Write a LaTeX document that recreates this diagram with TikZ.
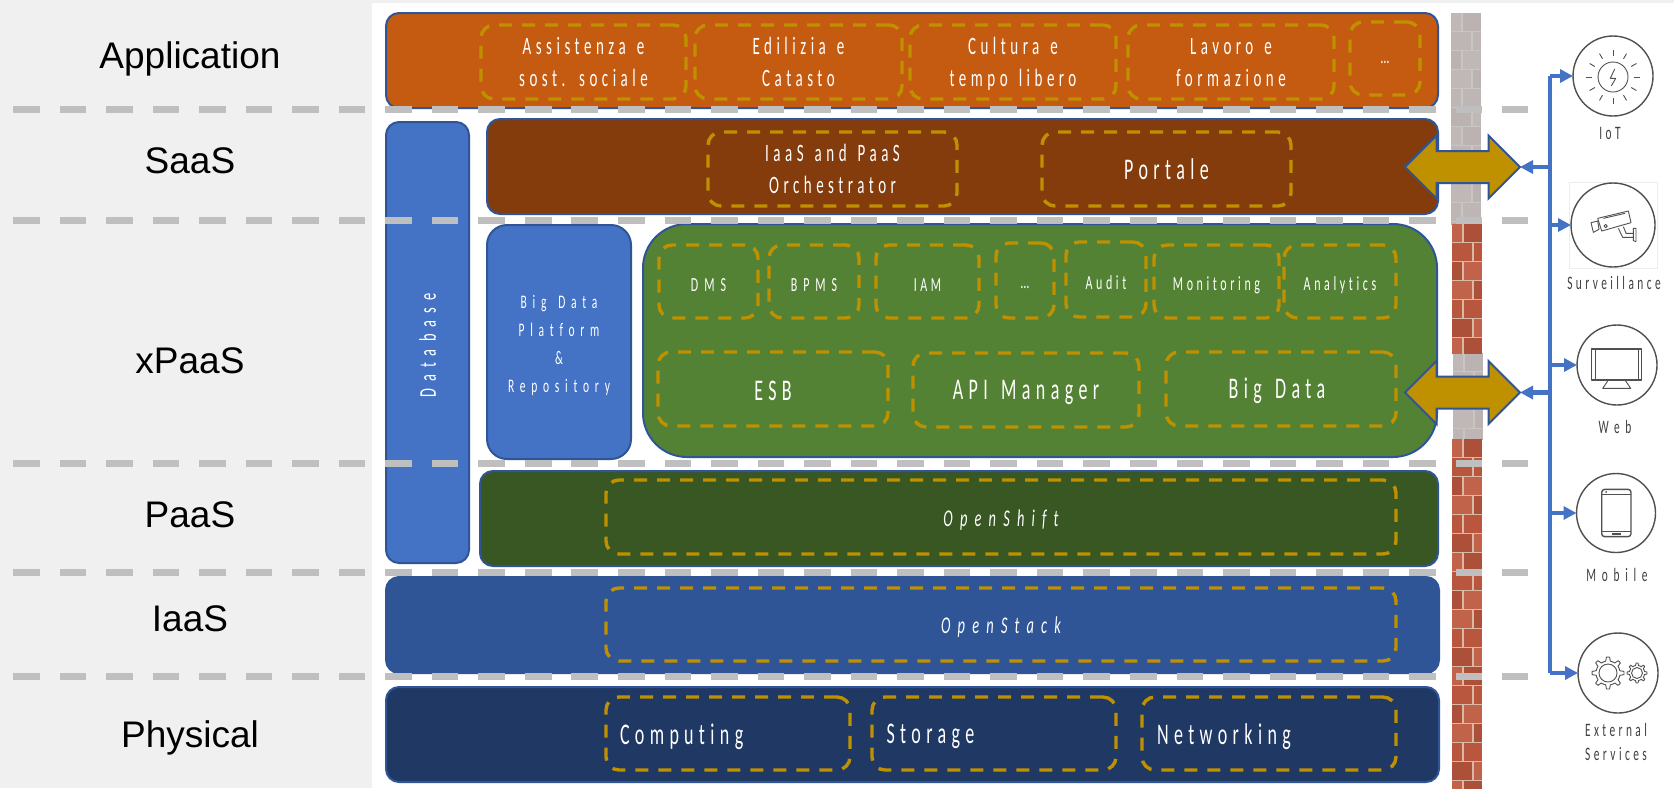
\documentclass[tikz,border=0pt]{standalone}
\usepackage{graphicx}
\usepackage{fontspec}
\setmainfont{Liberation Sans}
\newfontfamily\lblfont[FakeStretch=0.6,LetterSpace=18,WordSpace=1.4,Ligatures=NoCommon]{Carlito}
\newfontfamily\lblwide[FakeStretch=0.6,LetterSpace=30,WordSpace=1.4,Ligatures=NoCommon]{Carlito}
\usetikzlibrary{arrows.meta,shapes.arrows}
\definecolor{cApp}{HTML}{C55A11}
\definecolor{cSaas}{HTML}{843C0C}
\definecolor{cGreen}{HTML}{548235}
\definecolor{cDark}{HTML}{385723}
\definecolor{cIaas}{HTML}{2F5597}
\definecolor{cPhys}{HTML}{203864}
\definecolor{cDb}{HTML}{4472C4}
\definecolor{cGold}{HTML}{BF9000}
\definecolor{cIcon}{HTML}{505050}
\definecolor{cLab}{HTML}{404040}
\definecolor{cSep}{HTML}{BFBFBF}
\definecolor{cPanel}{HTML}{F0F0F0}
\definecolor{rA}{HTML}{B9563E}
\definecolor{rB}{HTML}{AD5039}
\definecolor{rC}{HTML}{C0634A}
\definecolor{rM}{HTML}{D9B9A3}
\definecolor{gA}{HTML}{BEB5B5}
\definecolor{gB}{HTML}{BBB2B2}
\definecolor{gC}{HTML}{C0B7B7}
\definecolor{gM}{HTML}{CAC4C3}
\tikzset{
  mainbox/.style={draw=cIaas,line width=1pt,rounded corners=6.5pt,outer sep=0pt,inner sep=0pt,text=white},
  dashbox/.style={draw=cGold,line width=1.7pt,rounded corners=6.5pt,outer sep=0pt,inner sep=0pt,text=white,
     dash pattern=on 6.5pt off 5pt,align=center},
  txS/.style={font=\lblfont\fontsize{10}{14}\selectfont},
  txW/.style={font=\lblwide\fontsize{10}{14}\selectfont},
  txD/.style={font=\lblwide\fontsize{12}{14}\selectfont},
  txB/.style={font=\lblwide\fontsize{9.6}{14}\selectfont},
  txM/.style={font=\lblfont\fontsize{12.5}{16}\selectfont},
  txI/.style={font=\lblwide\itshape\fontsize{12}{16}\selectfont},
  txL/.style={font=\lblfont\fontsize{15}{18}\selectfont},
  sep/.style={draw=cSep,line width=3.5pt,dash pattern=on 13.3pt off 9.97pt},
  layer/.style={font=\fontsize{18.5}{22}\selectfont,text=black},
  bigarrow/.style={double arrow,draw=cIaas,fill=cGold,line width=1pt,inner sep=0pt,outer sep=0pt,
     minimum height=57.5pt,minimum width=30.5pt,double arrow head extend=7.75pt,text height=7.5pt,text depth=7.5pt},
  bus/.style={draw=cDb,line width=2.25pt},
  tip/.style={bus,-{Triangle[length=6.5pt,width=6.5pt]}},
  devcircle/.style={circle,draw=cIcon,line width=.7pt,inner sep=0pt,outer sep=0pt,fill=white},
  devlabel/.style={font=\lblfont\fontsize{9.5}{12}\selectfont,text=cLab,align=center},
  devwide/.style={font=\lblwide\fontsize{9.5}{12}\selectfont,text=cLab,align=center},
  ico/.style={draw=cIcon,line width=.45pt,line join=round}
}
% lowers a text without moving the box it sits in
\newcommand{\dn}[2]{\raisebox{-#1}[\height][\depth]{#2}}
\newcommand{\lines}[2]{\dn{#1}{\begin{tabular}{@{}c@{}}#2\end{tabular}}}
% box given by its corners in pixels
\newcommand{\bx}[6][]{%
  \pgfmathsetmacro\bxcx{(#3+#5)/2}\pgfmathsetmacro\bxcy{(#4+#6)/2}%
  \pgfmathsetmacro\bxw{(#5-#3)*0.5}\pgfmathsetmacro\bxh{(#6-#4)*0.5}%
  \node[#1,minimum width=\bxw pt,minimum height=\bxh pt] (#2) at (\bxcx,\bxcy)}
% brick strip
\newcommand{\brickstrip}[7]{%
  \begin{scope}
  \clip (#1,#3) rectangle (#2,#4);
  \fill[#5] (#1,#3) rectangle (#2,#4);
  \pgfmathtruncatemacro\nrows{(#4-#3)/19}
  \foreach \r in {0,...,\nrows}{
    \pgfmathsetmacro\ya{#3+\r*19}\pgfmathsetmacro\yb{\ya+19}
    \pgfmathsetmacro\jx{#1+(mod(\r,2)==0 ? 11 : 21)}
    \pgfmathtruncatemacro\ca{mod(\r*7+2,3)}\pgfmathtruncatemacro\cb{mod(\r*5+1,3)}
    \fill[\ifcase\ca #5\or #6\or #7\fi] (#1,\ya) rectangle (\jx,\yb);
    \fill[\ifcase\cb #5\or #6\or #7\fi] (\jx,\ya) rectangle (#2,\yb);
    \draw[\mort,line width=.6pt] (\jx,\ya) -- (\jx,\yb);
    \draw[\mort,line width=.8pt] (#1,\yb) -- (#2,\yb);
  }
  \end{scope}}
\begin{document}
\begin{tikzpicture}[x=0.5pt,y=-0.5pt]
\useasboundingbox (0,0) rectangle (1674,788);
% backgrounds
\fill[white] (0,0) rectangle (1674,788);
\fill[cPanel] (0,0) rectangle (372,788);
\fill[cPanel] (0,0) rectangle (1674,3);
% wall
\def\mort{gM}
\brickstrip{1451}{1481}{13}{224}{gA}{gB}{gC}
\brickstrip{1453}{1483}{353}{439}{gA}{gB}{gC}
\def\mort{rM}
\brickstrip{1452}{1482}{224}{353}{rA}{rB}{rC}
\brickstrip{1452}{1482}{439}{788}{rA}{rB}{rC}
% layer names
\node[layer] (lApp) at (190,59) {Application};
\node[layer] (lSaas) at (190,161) {SaaS};
\node[layer] (lX) at (190,361) {xPaaS};
\node[layer] (lPaas) at (190,515) {PaaS};
\node[layer] (lIaas) at (190,619) {IaaS};
\node[layer] (lPhys) at (190,738) {Physical};
% main boxes
\bx[mainbox,fill=cApp]{app}{386}{13}{1438}{108} {};
\bx[mainbox,fill=cSaas]{saas}{487}{119}{1438}{214} {};
\bx[mainbox,fill=cDb,txD]{db}{386}{122}{469}{563} {\dn{1.5pt}{\rotatebox{90}{Database}}};
\bx[mainbox,fill=cDb,txB,align=center,rounded corners=10pt]{bdp}{487}{225}{631}{459} {\lines{1.5pt}{Big Data\\Platform\\\&\\Repository}};
\bx[mainbox,fill=cGreen,rounded corners=22pt]{xpaas}{643}{224}{1437}{457} {};
\bx[mainbox,fill=cDark]{paas}{480}{471}{1438}{566} {};
\bx[mainbox,fill=cIaas]{iaas}{386}{577}{1439}{673} {};
\bx[mainbox,fill=cPhys]{phys}{386}{687}{1439}{782} {};
% application
\bx[dashbox,txM]{d1}{481}{25}{686}{99} {\lines{1pt}{Assistenza e\\sost. sociale}};
\bx[dashbox,txM]{d2}{695}{25}{902}{99} {\lines{1pt}{Edilizia e\\Catasto}};
\bx[dashbox,txM]{d3}{910}{25}{1116}{99} {\lines{1pt}{Cultura e\\tempo libero}};
\bx[dashbox,txM]{d4}{1128}{25}{1334}{99} {\lines{1pt}{Lavoro e\\formazione}};
\bx[dashbox,txS]{d5}{1350}{22}{1420}{95} {\vphantom{Ag}…};
% saas
\bx[dashbox,txM]{orch}{708}{132}{957}{206} {\lines{1pt}{IaaS and PaaS\\Orchestrator}};
\bx[dashbox,txL]{port}{1042}{132}{1291}{206} {Portale};
% xpaas row 1
\bx[dashbox,txW]{dms}{659}{245}{758}{318} {\dn{2pt}{DMS}};
\bx[dashbox,txW]{bpms}{769}{245}{859}{318} {\dn{2pt}{BPMS}};
\bx[dashbox,txS]{iam}{876}{245}{979}{318} {\dn{2pt}{IAM}};
\bx[dashbox,txS]{more}{996}{243}{1054}{318} {\dn{1.5pt}{\vphantom{Ag}…}};
\bx[dashbox,txS]{audit}{1066}{242}{1146}{317} {\dn{1.5pt}{Audit}};
\bx[dashbox,txS]{mon}{1154}{245}{1279}{318} {\dn{2pt}{Monitoring}};
\bx[dashbox,txS]{ana}{1284}{245}{1396}{318} {\dn{2pt}{Analytics}};
% xpaas row 2
\bx[dashbox,txL]{esb}{658}{352}{888}{426} {\dn{1pt}{ESB}};
\bx[dashbox,txL]{api}{913}{353}{1139}{427} {\dn{1pt}{API Manager}};
\bx[dashbox,txL]{bigd}{1166}{352}{1396}{426} {\dn{1pt}{Big Data\hspace*{4pt}}};
% paas, iaas
\bx[dashbox,txI]{oshift}{606}{480}{1396}{554} {\dn{1.5pt}{OpenShift}};
\bx[dashbox,txI]{ostack}{606}{588}{1396}{661} {\dn{1.5pt}{OpenStack}};
% physical
\bx[dashbox,txL,align=left,text width=108pt]{comp}{606}{697}{850}{770} {\dn{1.5pt}{Comp\kern2.5pt uting}};
\bx[dashbox,txL,align=left,text width=107.5pt]{stor}{872}{697}{1116}{770} {\dn{1.5pt}{Storage}};
\bx[dashbox,txL,align=left,text width=112pt]{netw}{1142}{697}{1396}{770} {\dn{1.5pt}{Networking}};
% separators
\foreach \yy in {109,220,463,572,676}{
  \draw[sep] (13,\yy) -- (1528,\yy);
}
% devices
\node[devcircle,minimum size=40pt] (iot) at (1613,76) {};
\draw[draw=black!7,line width=.5pt] (1569,182) rectangle (1657,268);
\node[devcircle,minimum size=42pt] (surv) at (1613,225) {};
\node[devcircle,minimum size=40pt] (web) at (1617,365) {};
\node[devcircle,minimum size=39.5pt] (mob) at (1616,513) {};
\node[devcircle,minimum size=40pt] (ext) at (1618,673) {};
\node[devlabel] (tIot) at (1610,133) {IoT};
\node[devlabel] (tSurv) at (1614,283) {Surveillance};
\node[devwide] (tWeb) at (1615,427) {Web};
\node[devwide] (tMob) at (1617,575) {Mobile};
\node[devlabel] (tExt) at (1616,742) {External\\Services};
% icons: sun
\begin{scope}[shift={(1613,77)}]
  \draw[ico] (0,0) circle (15);
  \foreach \a in {0,30,...,330}{\draw[ico] (\a:21) -- (\a:27);}
  \draw[ico] (1.7,-8) -- (-2.7,1.3) -- (2.7,1.3) -- (-1.7,9);
\end{scope}
% icons: camera, monitor
\begin{scope}[shift={(1300,0)},x=0.16667pt,y=-0.16667pt]
  \draw[ico] (893,655) -- (985,633) -- (993,668) -- (905,693) -- cycle;
  \draw[ico] (873,668) -- (893,663) -- (897,688) -- (880,697) -- cycle;
  \draw[ico] (910,655) -- (975,640);
  \draw[ico] (917,678) circle (5);
  \draw[ico] (955,685) -- (968,712) -- (1000,712);
  \draw[ico] (970,680) -- (978,700) -- (1000,700);
  \draw[ico] (1000,685) -- (1008,685) -- (1008,725) -- (1000,722) -- cycle;
  \draw[ico,line width=.7pt] (875,1047) rectangle (1025,1140);
  \draw[ico] (885,1047) -- (885,1140) (1015,1047) -- (1015,1140);
  \draw[ico] (925,1140) -- (908,1165) -- (992,1165) -- (975,1140);
\end{scope}
% icons: tablet, gears
\begin{scope}[shift={(1300,400)},x=0.16667pt,y=-0.16667pt]
  \draw[ico,line width=.7pt,rounded corners=1.5pt] (905,268) rectangle (993,410);
  \draw[ico] (905,283) -- (993,283) (905,395) -- (993,395);
  \draw[ico,line width=.8pt] (935,402) -- (963,402);
  \fill[cIcon] (918,276) circle (3);
\end{scope}
\begin{scope}[shift={(1608,673)}]
  \draw[ico] plot[samples=65,domain=0:360] (\x:{14+2*(cos(8*\x)>0?1:-1)}) -- cycle;
  \draw[ico] (0,0) circle (9);
\end{scope}
\begin{scope}[shift={(1637,673)}]
  \draw[ico] plot[samples=65,domain=0:360] (\x:{8.8+1.2*(cos(8*\x)>0?1:-1)}) -- cycle;
  \draw[ico] (0,0) circle (5.5);
\end{scope}
% large arrows
\node[bigarrow] (arrSaas) at (1462.5,167) {};
\node[bigarrow] (arrX) at (1462.5,392.5) {};
% bus
\coordinate (busTop) at (1550,76);
\coordinate (busBot) at (1550,673);
\coordinate (bS) at (1550,225);
\coordinate (bW) at (1550,365);
\coordinate (bM) at (1550,513);
\coordinate (bA) at (1550,167);
\coordinate (bX) at (1550,392.5);
\draw[bus] (busTop) -- (busBot);
\draw[tip] (busTop) -- (iot.west);
\draw[tip] (bS) -- (surv.west);
\draw[tip] (bW) -- (web.west);
\draw[tip] (bM) -- (mob.west);
\draw[tip] (busBot) -- (ext.west);
\draw[tip] (bA) -- (arrSaas.east);
\draw[tip] (bX) -- (arrX.east);
\end{tikzpicture}
\end{document}
